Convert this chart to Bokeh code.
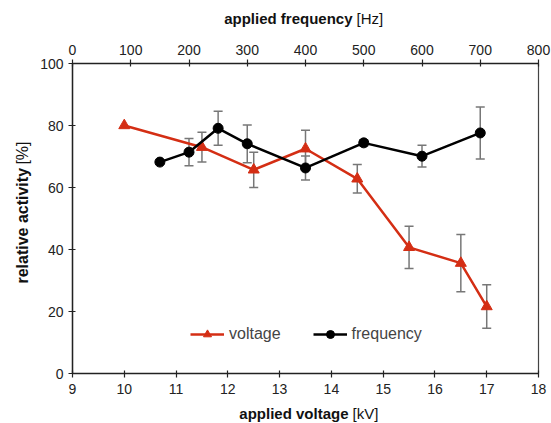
import math
from bokeh.plotting import figure
from bokeh.layouts import column, row
from bokeh.core.properties import value
from bokeh.models import (Range1d, LinearAxis, Whisker, ColumnDataSource,
                          Legend, LegendItem, SingleIntervalTicker, TeeHead)
from bokeh.embed import file_html
from bokeh.resources import INLINE

# ---- data ----
voltage_kv = [10, 11.5, 12.5, 13.5, 14.5, 15.5, 16.5, 17]
voltage_act = [80.0, 73.0, 65.7, 72.5, 62.8, 40.7, 35.6, 21.6]
voltage_err = [0, 4.8, 5.7, 6.0, 4.6, 6.8, 9.2, 7.0]

freq_hz = [150, 200, 250, 300, 400, 500, 600, 700]
freq_act = [68.2, 71.4, 79.1, 74.1, 66.3, 74.4, 70.1, 77.6]
freq_err = [0, 4.4, 5.5, 6.1, 3.9, 1.0, 3.5, 8.4]

x_title = ("applied voltage", "[kV]")
x2_title = ("applied frequency", "[Hz]")
y_title = ("relative activity", "[%]")

RED = "#d42e14"
FONT = "Liberation Sans"
W, H = 551, 423
TOP_H, LEFT_W, BOT_H = 30, 36, 25

# ---- main plot ----
p = figure(width=W - LEFT_W, height=H - TOP_H - BOT_H, output_backend="svg",
           toolbar_location=None, x_range=Range1d(9, 18), y_range=Range1d(0, 100),
           min_border_left=36, min_border_right=13, min_border_top=33, min_border_bottom=25)
p.extra_x_ranges = {"freq": Range1d(0, 800)}
p.xgrid.visible = False
p.ygrid.visible = False
p.outline_line_color = "#444444"
p.outline_line_width = 1.2

def style_axis(ax, standoff):
    ax.axis_line_color = "#222222"
    ax.axis_line_width = 1.4
    ax.major_tick_line_color = "#222222"
    ax.major_tick_line_width = 1.2
    ax.major_tick_in = 3
    ax.major_tick_out = 4
    ax.minor_tick_line_color = None
    ax.major_label_text_font = FONT
    ax.major_label_text_font_size = "14px"
    ax.major_label_text_color = "#222222"
    ax.major_label_standoff = standoff

p.xaxis.ticker = SingleIntervalTicker(interval=1)
p.yaxis.ticker = SingleIntervalTicker(interval=20)
style_axis(p.xaxis[0], 6)
style_axis(p.yaxis[0], 5)

top = LinearAxis(x_range_name="freq", ticker=SingleIntervalTicker(interval=100))
style_axis(top, 5)
p.add_layout(top, "above")

# ---- error bars ----
v_src = ColumnDataSource(dict(
    x=[x for x, e in zip(voltage_kv, voltage_err) if e > 0],
    up=[y + e for y, e in zip(voltage_act, voltage_err) if e > 0],
    lo=[y - e for y, e in zip(voltage_act, voltage_err) if e > 0]))
f_src = ColumnDataSource(dict(
    x=[x for x, e in zip(freq_hz, freq_err) if e > 0],
    up=[y + e for y, e in zip(freq_act, freq_err) if e > 0],
    lo=[y - e for y, e in zip(freq_act, freq_err) if e > 0]))

for src, rn in ((v_src, "default"), (f_src, "freq")):
    w = Whisker(source=src, base="x", upper="up", lower="lo", dimension="height",
                line_color="#777777", line_width=1.5, level="underlay",
                upper_head=TeeHead(size=9, line_color="#777777", line_width=1.5),
                lower_head=TeeHead(size=9, line_color="#777777", line_width=1.5))
    w.x_range_name = rn
    p.add_layout(w)

# ---- series ----
vl = p.line(voltage_kv, voltage_act, line_color=RED, line_width=2.5)
vm = p.scatter(voltage_kv, voltage_act, marker="triangle", size=11,
               fill_color=RED, line_color=RED)
fl = p.line(freq_hz, freq_act, line_color="black", line_width=2.5, x_range_name="freq")
fm = p.scatter(freq_hz, freq_act, marker="circle", size=10, fill_color="black",
               line_color="black", x_range_name="freq")

legend = Legend(items=[LegendItem(label="voltage", renderers=[vl, vm]),
                       LegendItem(label="frequency", renderers=[fl, fm])],
                orientation="horizontal", location=(118, 29),
                border_line_color=None, background_fill_alpha=0,
                label_text_font=FONT, label_text_font_size="16px",
                glyph_width=34, spacing=32, label_standoff=5, padding=2)
p.add_layout(legend, "center")

# ---- title strips (bold part + normal part) ----
def strip(width, height):
    f = figure(width=width, height=height, output_backend="svg", toolbar_location=None,
               x_range=Range1d(0, width), y_range=Range1d(0, height),
               min_border=0, min_border_left=0, min_border_right=0,
               min_border_top=0, min_border_bottom=0)
    f.axis.visible = False
    f.grid.visible = False
    f.outline_line_color = None
    return f

def two_part(f, x, y, parts, size, angle=0.0, gap=4):
    bold, normal = parts
    dx, dy = (0, gap) if angle else (gap, 0)
    f.text(x=[x], y=[y], text=[bold], text_font=value(FONT), text_font_size=size,
           text_font_style="bold", text_align="right", text_baseline="middle",
           text_color="#111111", angle=angle)
    f.text(x=[x + dx], y=[y + dy], text=[normal], text_font=value(FONT),
           text_font_size=size, text_align="left", text_baseline="middle",
           text_color="#111111", angle=angle)

top_strip = strip(W, TOP_H)
two_part(top_strip, 352, TOP_H - 18, x2_title, "15px")

bot_strip = strip(W, BOT_H)
two_part(bot_strip, 348, 10, x_title, "15px")

mid_h = H - TOP_H - BOT_H
left_strip = strip(LEFT_W, mid_h)
# junction at canvas y = 154  -> local from bottom
two_part(left_strip, 22, mid_h - (154 - TOP_H), y_title, "16px", angle=math.pi / 2)

layout = column(top_strip, row(left_strip, p), bot_strip)
open("out.html", "w").write(file_html(layout, INLINE))
